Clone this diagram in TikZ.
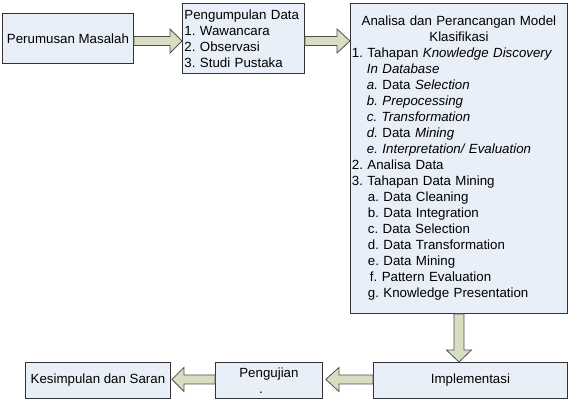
\documentclass[tikz,border=0pt]{standalone}
\usepackage{fontspec}
\setmainfont{Liberation Sans}
\usetikzlibrary{calc}
\frenchspacing
\definecolor{boxfill}{HTML}{E9EFF8}
\definecolor{arrfill}{HTML}{D8DEC2}
\definecolor{boxline}{HTML}{333333}
\definecolor{arrline}{HTML}{505050}
\newcommand{\harr}[3]{\draw[barrow] let \p1=#1, \p2=#2 in (\x1,\y1+4.5pt) -- ({\x2-(#3)},\y1+4.5pt) -- ({\x2-(#3)},\y1+12pt) -- (\x2,\y1) -- ({\x2-(#3)},\y1-12pt) -- ({\x2-(#3)},\y1-4.5pt) -- (\x1,\y1-4.5pt) -- cycle;}
\newcommand{\varr}[3]{\draw[barrow] let \p1=#1, \p2=#2 in (\x1+5pt,\y1) -- (\x1+5pt,{\y2+(#3)}) -- (\x1+12.5pt,{\y2+(#3)}) -- (\x1,\y2) -- (\x1-12.5pt,{\y2+(#3)}) -- (\x1-5pt,{\y2+(#3)}) -- (\x1-5pt,\y1) -- cycle;}
\begin{document}
\begin{tikzpicture}[x=1pt,y=-1pt,
  box/.style={draw=boxline, fill=boxfill, line width=0.9pt, inner sep=0pt, anchor=north west,
    font=\fontsize{13.3}{16}\selectfont\frenchspacing},
  barrow/.style={draw=arrline, fill=arrfill, line width=0.8pt, line join=miter}]
\useasboundingbox (0,0) rectangle (568,400);

\node[box, minimum width=131, minimum height=50] (b1) at (2,13) {Perumusan Masalah};

\node[box, minimum width=121, minimum height=70, text width=118pt, inner xsep=2pt, align=left] (b2) at (182,3)
  {Pengumpulan Data\\1. Wawancara\\2. Observasi\\3. Studi Pustaka};

\node[box, minimum width=217, minimum height=310, text width=214pt, inner xsep=1.5pt, align=left] (b3) at (350,3)
  {\makebox[214pt]{Analisa dan Perancangan Model}\\
   \makebox[214pt]{Klasifikasi}\\
   1. Tahapan \textit{Knowledge Discovery}\\
   \hspace*{15pt}\textit{In Database}\\
   \hspace*{15pt}\textit{a.} Data \textit{Selection}\\
   \hspace*{15pt}\textit{b. Prepocessing}\\
   \hspace*{15pt}\textit{c. Transformation}\\
   \hspace*{15pt}\textit{d.} Data \textit{Mining}\\
   \hspace*{15pt}\textit{e. Interpretation/ Evaluation}\\
   2. Analisa Data\\
   3. Tahapan Data Mining\\
   \hspace*{16pt}a. Data Cleaning\\
   \hspace*{16pt}b. Data Integration\\
   \hspace*{16pt}c. Data Selection\\
   \hspace*{16pt}d. Data Transformation\\
   \hspace*{16pt}e. Data Mining\\
   \hspace*{18pt}f. Pattern Evaluation\\
   \hspace*{16pt}g. Knowledge Presentation};

\node[box, minimum width=194, minimum height=36] (impl) at (373,362) {Implementasi};
\node[box, minimum width=107, minimum height=36, align=center] (uji) at (215,362) {Pengujian\\\hspace*{-16pt}.};
\node[box, minimum width=145, minimum height=36] (kes) at (25,362) {Kesimpulan dan Saran};

\harr{($(b1.east)+(0,2.5)$)}{($(b2.west)+(0,2.5)$)}{12pt}
\harr{($(b2.east)+(0,2.5)$)}{($(b2.east -| b3.west)+(0,2.5)$)}{13pt}
\varr{(b3.south)}{(b3.south |- impl.north)}{12pt}
\harr{($(impl.west)+(0,-1)$)}{($(uji.east)+(3,-1)$)}{-13pt}
\harr{($(uji.west)+(0,-1)$)}{($(kes.east)+(1,-1)$)}{-12pt}
\end{tikzpicture}
\end{document}
